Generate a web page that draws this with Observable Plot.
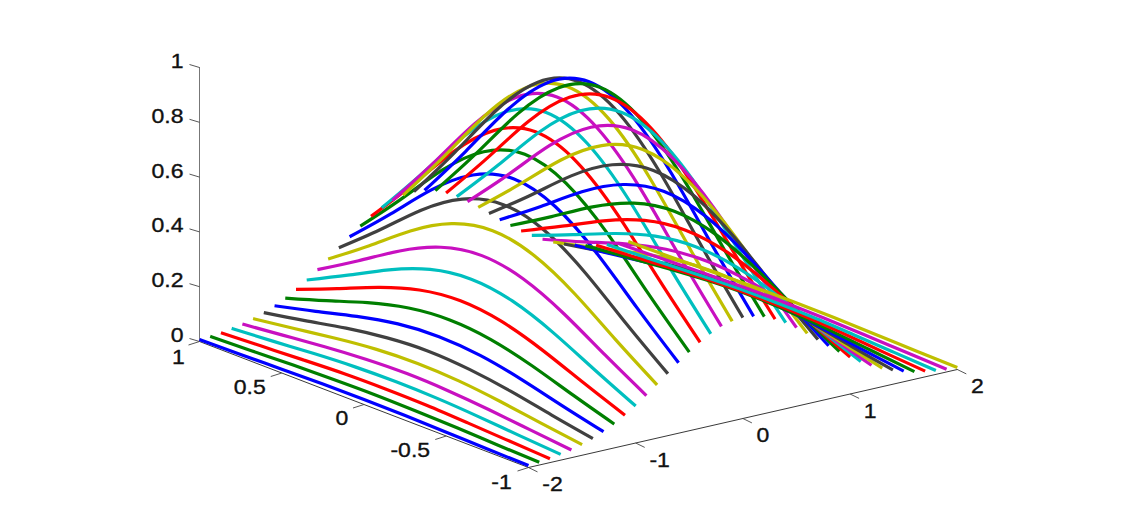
<!DOCTYPE html>
<html>
<head>
<meta charset="utf-8">
<style>
html,body{margin:0;padding:0;background:#fff;overflow:hidden}
svg{display:block}
</style>
<script src="https://cdn.jsdelivr.net/npm/d3@7"></script>
<script src="https://cdn.jsdelivr.net/npm/@observablehq/plot@0.6"></script>
</head>
<body>
<div id="chart"></div>
<script>
// Values: one z list per curve, along yValues
const yValues = [-1,-0.75,-0.5,-0.25,0,0.25,0.5,0.75,1];
const xValues = [-2,-1.9,-1.8,-1.7,-1.6,-1.5,-1.4,-1.3,-1.2,-1.1,-1,-0.9,-0.8,-0.7,-0.6,-0.5,-0.4,-0.3,-0.2,-0.1,0,0.1,0.2,0.3,0.4,0.5,0.6,0.7,0.8,0.9,1,1.1,1.2,1.3,1.4,1.5,1.6,1.7,1.8,1.9,2];
const seriesColors = ["#0000ff","#007f00","#ff0000","#00bfbf","#c810c0","#bfbf00","#404040"];

const z00=[.007,.010,.014,.017,.018,.017,.014,.010,.007];
const z01=[.010,.015,.021,.025,.027,.025,.021,.015,.010];
const z02=[.014,.022,.030,.037,.039,.037,.030,.022,.014];
const z03=[.021,.032,.044,.053,.056,.053,.044,.032,.021];
const z04=[.028,.044,.060,.072,.077,.072,.060,.044,.028];
const z05=[.039,.060,.082,.099,.105,.099,.082,.060,.039];
const z06=[.052,.080,.110,.132,.141,.132,.110,.080,.052];
const z07=[.068,.105,.144,.174,.185,.174,.144,.105,.068];
const z08=[.087,.135,.185,.223,.237,.223,.185,.135,.087];
const z09=[.110,.170,.232,.280,.298,.280,.232,.170,.110];
const z10=[.135,.210,.287,.346,.368,.346,.287,.210,.135];
const z11=[.164,.254,.347,.418,.445,.418,.347,.254,.164];
const z12=[.194,.300,.411,.495,.527,.495,.411,.300,.194];
const z13=[.226,.349,.478,.576,.613,.576,.478,.349,.226];
const z14=[.257,.398,.544,.655,.698,.655,.544,.398,.257];
const z15=[.287,.444,.607,.731,.779,.731,.607,.444,.287];
const z16=[.314,.486,.664,.800,.852,.800,.664,.486,.314];
const z17=[.336,.521,.712,.858,.914,.858,.712,.521,.336];
const z18=[.354,.548,.749,.902,.961,.902,.749,.548,.354];
const z19=[.364,.564,.771,.930,.990,.930,.771,.564,.364];
const z20=[.368,.570,.779,.939,1.00,.939,.779,.570,.368];
const z21=[.364,.564,.771,.930,.990,.930,.771,.564,.364];
const z22=[.354,.548,.749,.902,.961,.902,.749,.548,.354];
const z23=[.336,.521,.712,.858,.914,.858,.712,.521,.336];
const z24=[.314,.486,.664,.800,.852,.800,.664,.486,.314];
const z25=[.287,.444,.607,.731,.779,.731,.607,.444,.287];
const z26=[.257,.398,.544,.655,.698,.655,.544,.398,.257];
const z27=[.226,.349,.478,.576,.613,.576,.478,.349,.226];
const z28=[.194,.300,.411,.495,.527,.495,.411,.300,.194];
const z29=[.164,.254,.347,.418,.445,.418,.347,.254,.164];
const z30=[.135,.210,.287,.346,.368,.346,.287,.210,.135];
const z31=[.110,.170,.232,.280,.298,.280,.232,.170,.110];
const z32=[.087,.135,.185,.223,.237,.223,.185,.135,.087];
const z33=[.068,.105,.144,.174,.185,.174,.144,.105,.068];
const z34=[.052,.080,.110,.132,.141,.132,.110,.080,.052];
const z35=[.039,.060,.082,.099,.105,.099,.082,.060,.039];
const z36=[.028,.044,.060,.072,.077,.072,.060,.044,.028];
const z37=[.021,.032,.044,.053,.056,.053,.044,.032,.021];
const z38=[.014,.022,.030,.037,.039,.037,.030,.022,.014];
const z39=[.010,.015,.021,.025,.027,.025,.021,.015,.010];
const z40=[.007,.010,.014,.017,.018,.017,.014,.010,.007];
const zRows=[z00,z01,z02,z03,z04,z05,z06,z07,z08,z09,z10,z11,z12,z13,z14,z15,z16,z17,z18,z19,z20,z21,z22,z23,z24,z25,z26,z27,z28,z29,z30,z31,z32,z33,z34,z35,z36,z37,z38,z39,z40];

const xTicks=[-2,-1,0,1,2];
const yTicks=[-1,-0.5,0,0.5,1];
const zTicks=[0,0.2,0.4,0.6,0.8,1];

// The camera of the 3-D view (orthographic)
const sx=(x,y)=>528+107.2*(x+2)-164.5*(y+1);
const sy=(x,y,z)=>467-24.5*(x+2)-63*(y+1)-274*z;

const curves=xValues.flatMap((x,i)=>yValues.map((y,j)=>({
  curve:i, sx:sx(x,y), sy:sy(x,y,zRows[i][j]), color:seriesColors[i%seriesColors.length]
})));

const floorAxes=[
  {a:0,sx:sx(-2,-1),sy:sy(-2,-1,0)},{a:0,sx:sx(2,-1),sy:sy(2,-1,0)},
  {a:1,sx:sx(-2,-1),sy:sy(-2,-1,0)},{a:1,sx:sx(-2,1),sy:sy(-2,1,0)}
];
const heightAxis=[{sx:sx(-2,1),sy:sy(-2,1,0)},{sx:sx(-2,1),sy:sy(-2,1,1)}];
const tick=(bx,by,dx,dy)=>({x1:bx,y1:by,x2:bx+dx,y2:by+dy});
const tickSegs=[
  ...xTicks.map(x=>tick(sx(x,-1),sy(x,-1,0),9,4.4)),
  ...yTicks.map(y=>tick(sx(-2,y),sy(-2,y,0),-11,3.5)),
  ...zTicks.map(z=>tick(sx(-2,1),sy(-2,1,z),-10,-3))
];
const xLabels=xTicks.map(x=>({t:String(x),sx:sx(x,-1)+(x<0?24:20),sy:sy(x,-1,0)+17.5}));
const yLabelOff={"-1":[-27,15],"-0.5":[-36,14.5],"0":[-22,14],"0.5":[-32,14.5],"1":[-21,16]};
const yLabels=yTicks.map(y=>({t:String(y),sx:sx(-2,y)+yLabelOff[y][0],sy:sy(-2,y,0)+yLabelOff[y][1]}));
const zLabels=zTicks.map(z=>({t:String(z),sx:sx(-2,1)-16,sy:sy(-2,1,z)-6}));

const font={fontFamily:"'Liberation Sans',Arial,sans-serif",fontSize:20,fill:"#111",stroke:"#111",strokeWidth:0.35};
const plot=Plot.plot({
  width:1125,height:519,margin:0,
  x:{domain:[0,1125],range:[0,1125],axis:null},
  y:{domain:[0,519],range:[0,519],axis:null},
  color:{type:"identity"},
  marks:[
    Plot.line(floorAxes,{x:"sx",y:"sy",z:"a",stroke:"#222",strokeWidth:0.9}),
    Plot.line(heightAxis,{x:"sx",y:"sy",stroke:"#777",strokeWidth:1}),
    Plot.link(tickSegs,{x1:"x1",y1:"y1",x2:"x2",y2:"y2",stroke:"#444",strokeWidth:0.9}),
    Plot.line(curves,{x:"sx",y:"sy",z:"curve",stroke:"color",strokeWidth:3.2,curve:"natural",strokeLinecap:"butt",strokeLinejoin:"round"}),
    Plot.text(xLabels,{x:"sx",y:"sy",text:"t",textAnchor:"middle",...font}),
    Plot.text(yLabels,{x:"sx",y:"sy",text:"t",textAnchor:"middle",...font}),
    Plot.text(zLabels,{x:"sx",y:"sy",text:"t",textAnchor:"end",...font})
  ]
});
document.getElementById("chart").appendChild(plot);
// The reference's tick labels are set about 15% wider than the font's natural width
plot.querySelectorAll("text").forEach(t=>{
  t.setAttribute("lengthAdjust","spacingAndGlyphs");
  t.setAttribute("textLength",(t.getComputedTextLength()*1.15).toFixed(1));
});
</script>
</body>
</html>
